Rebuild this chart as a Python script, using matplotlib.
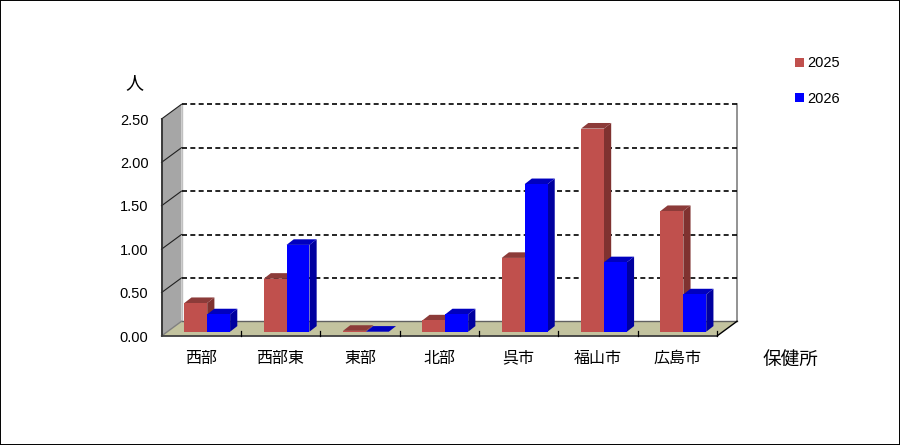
import matplotlib
matplotlib.use("Agg")
import matplotlib.pyplot as plt
from matplotlib.patches import Polygon, Patch

plt.rcParams['font.family'] = ['Noto Sans CJK JP', 'DejaVu Sans']

categories = ['西部', '西部東', '東部', '北部', '呉市', '福山市', '広島市']
values_2025 = [0.33, 0.61, 0.01, 0.13, 0.85, 2.34, 1.39]
values_2026 = [0.20, 1.00, 0.00, 0.20, 1.70, 0.80, 0.43]
y_ticks = [0.0, 0.5, 1.0, 1.5, 2.0, 2.5]
series_names = ['2025', '2026']
colors = ['#C0504D', '#0000FF']
side_colors = ['#7F3230', '#00009F']
top_colors = ['#8C3B39', '#0000BF']

W, H = 900, 445
fig = plt.figure(figsize=(W / 100, H / 100), dpi=100, facecolor='white')
L, R, T, B = 161.5, 717.0, 119.0, 336.0
ax = fig.add_axes([L / W, 1 - B / H, (R - L) / W, (B - T) / H])
ax.set_xlim(0, 7)
ax.set_ylim(0, 2.5)
ax.axis('off')

ux = (R - L) / 7
uy = (B - T) / 2.5
DX, DY = 20 / ux, 14.7 / uy          # depth of the chart box, in data units


def poly(pts, **kw):
    ax.add_patch(Polygon(pts, closed=True, clip_on=False, **kw))


# walls and floor
poly([(0, 0), (DX, DY), (DX, 2.5 + DY), (0, 2.5)], fc='#A6A6A6', ec='none', zorder=1)
poly([(0, 0), (7, 0), (7 + DX, DY), (DX, DY)], fc='#C3C39F', ec='none', zorder=1)
ax.plot([DX, DX], [DY, 2.5 + DY], color='#C0C0C0', lw=1, clip_on=False, zorder=2)
ax.plot([7 + DX, 7 + DX], [DY, 2.5 + DY], color='#808080', lw=1.2, clip_on=False, zorder=2)
ax.plot([DX, 7 + DX], [DY, DY], color='#606060', lw=1, clip_on=False, zorder=2)
ax.plot([7, 7 + DX], [0, DY], color='black', lw=1, clip_on=False, zorder=2)
ax.plot([0, DX], [0, DY], color='#808080', lw=1, clip_on=False, zorder=2)

# gridlines
for v in y_ticks[1:]:
    ax.plot([DX, 7 + DX], [v + DY, v + DY], color='black', lw=1.2, ls=(0, (3, 2)),
            clip_on=False, zorder=2)
    ax.plot([0, DX], [v, v + DY], color='#202020', lw=0.8, clip_on=False, zorder=3)

# bars
bar_w = 22.9 / ux
off0 = 22.8 / ux
base = 4.3 / uy
dx, dy = 7.2 / ux, 5.6 / uy
for s, vals in enumerate([values_2025, values_2026]):
    lefts = [i + off0 + s * bar_w for i in range(len(vals))]
    z = 4 + s
    for x, v in zip(lefts, vals):
        poly([(x + bar_w, base), (x + bar_w + dx, base + dy),
              (x + bar_w + dx, base + v + dy), (x + bar_w, base + v)],
             fc=side_colors[s], ec='none', zorder=z)
        poly([(x, base + v), (x + bar_w, base + v),
              (x + bar_w + dx, base + v + dy), (x + dx, base + v + dy)],
             fc=top_colors[s], ec='none', zorder=z)
    ax.bar(lefts, vals, width=bar_w, bottom=base, align='edge', color=colors[s],
           linewidth=0, zorder=z + 0.5, label=series_names[s], clip_on=False)

# front axes
ax.plot([0, 0], [0, 2.5], color='#303030', lw=1.3, clip_on=False, zorder=6)
ax.plot([0, 7], [0, 0], color='#404040', lw=1.3, clip_on=False, zorder=6)
for i in range(1, 8):
    ax.plot([i, i], [0, 5 / uy], color='black', lw=0.9, clip_on=False, zorder=6)

# tick labels
for v in y_ticks:
    ax.annotate(f'{v:.2f}', (0, v), xytext=(-13, -1.5), textcoords='offset pixels',
                ha='right', va='center', fontsize=10.5, family='Liberation Sans',
                color='black', annotation_clip=False)
for i, c in enumerate(categories):
    ax.annotate(c, (i + 0.5, 0), xytext=(0, -22), textcoords='offset pixels',
                ha='center', va='center', fontsize=11.5, color='black', annotation_clip=False)

fig.text(134 / W, 1 - 83 / H, '人', fontsize=13, ha='center', va='center')
fig.text(790 / W, 1 - 360 / H, '保健所', fontsize=13.4, ha='center', va='center')

handles = [Patch(fc=colors[i], ec='none', label=series_names[i]) for i in range(2)]
fig.legend(handles=handles, loc='upper left', bbox_to_anchor=(790.5 / W, 1 - 52 / H),
           frameon=False, handlelength=0.62, handleheight=0.62,
           labelspacing=1.45, handletextpad=0.2, borderpad=0.3, borderaxespad=0,
           prop={'family': 'Liberation Sans', 'size': 10.5})

# outer border
fig.add_artist(plt.Rectangle((0, 0), 1, 1, transform=fig.transFigure, fill=False,
                             ec='black', lw=1.4))
fig.savefig('out.png', dpi=100)
